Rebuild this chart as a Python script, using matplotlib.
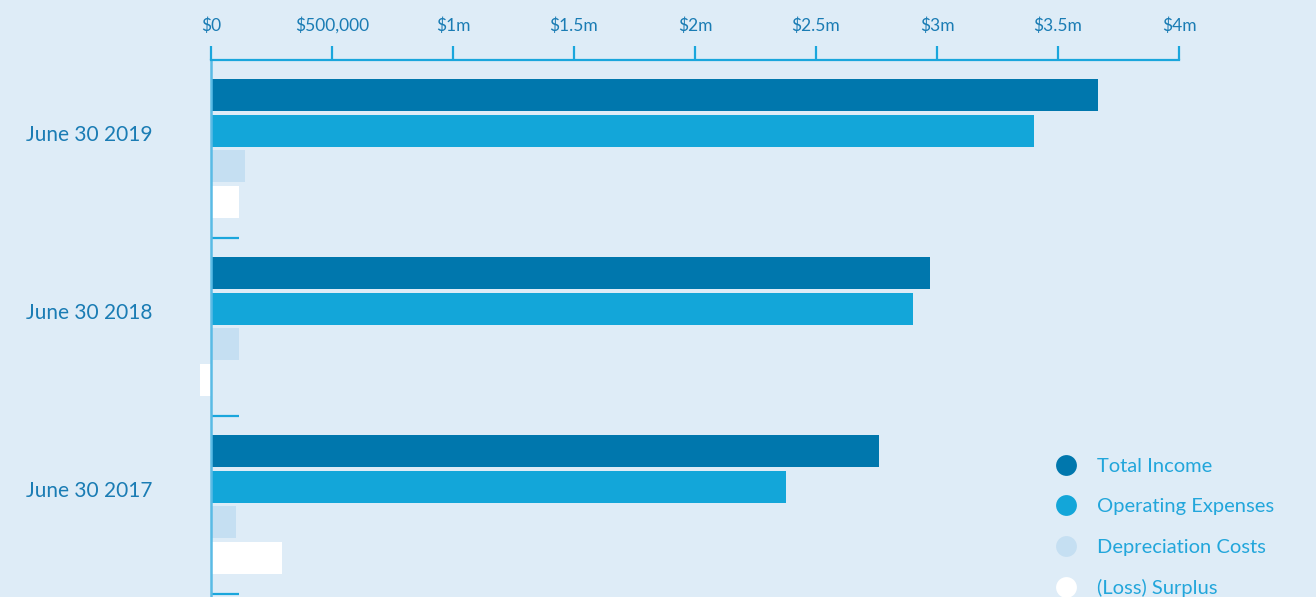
import numpy as np
import matplotlib.pyplot as plt
from matplotlib.lines import Line2D
from matplotlib.ticker import FixedLocator

plt.rcParams['font.family'] = ['Lato', 'DejaVu Sans']

#%% data (millions of dollars)
periods = ['June 30 2019', 'June 30 2018', 'June 30 2017']
series = ['Total Income', 'Operating Expenses', 'Depreciation Costs', '(Loss) Surplus']
total_income = [3.665, 2.971, 2.760]
operating_expenses = [3.400, 2.900, 2.376]
depreciation = [0.140, 0.116, 0.103]
surplus = [0.116, -0.045, 0.293]
x_ticks = [0, 0.5, 1, 1.5, 2, 2.5, 3, 3.5, 4]
x_labels = ['$0', '$500,000', '$1m', '$1.5m', '$2m', '$2.5m', '$3m', '$3.5m', '$4m']

colors = ['#0077ad', '#13a6d9', '#c5dff2', '#ffffff']
bg = '#deecf7'
axis_col = '#1aa6dc'
label_col = '#1a7cb4'

#%%
W, H = 1316, 597
fig = plt.figure(figsize=(W / 100, H / 100), dpi=100, facecolor=bg)
ax = fig.add_axes([0, 0, 1, (H - 60) / H], facecolor=bg)
ax.set_xlim(-(211 / 242), (W - 211) / 242)
ax.set_ylim((H - 60) / 178, 0)

values = [total_income, operating_expenses, depreciation, surplus]
bar_h = 32 / 178
step = 35.7 / 178
first = 19 / 178 + bar_h / 2
for k, (vals, c) in enumerate(zip(values, colors)):
    ys = np.arange(len(periods)) + first + k * step
    ax.barh(ys, vals, height=bar_h, color=c, linewidth=0)

# spines
for s in ['right', 'bottom']:
    ax.spines[s].set_visible(False)
ax.spines['top'].set_bounds(0, 4)
ax.spines['top'].set_color(axis_col)
ax.spines['top'].set_linewidth(1.6)
ax.spines['left'].set_position(('data', 0))
ax.spines['left'].set_color('#5abbe5')
ax.spines['left'].set_linewidth(1.8)

ax.xaxis.tick_top()
ax.set_xticks(x_ticks)
ax.set_xticklabels(x_labels)
ax.tick_params(axis='x', direction='out', length=10, width=1.6, color=axis_col,
               pad=9, labelsize=12.5, labelcolor=label_col)

# group labels and group boundary ticks
ax.set_yticks(np.arange(len(periods)) + 73 / 178)
ax.set_yticklabels(periods)
ax.yaxis.set_minor_locator(FixedLocator(np.arange(1, len(periods) + 1)))
ax.tick_params(axis='y', which='major', length=0, pad=42, labelsize=15,
               labelcolor=label_col)
ax.tick_params(axis='y', which='minor', direction='in', length=20, width=1.6,
               color=axis_col)

handles = [Line2D([], [], marker='o', linestyle='none', markersize=15,
                  markerfacecolor=c, markeredgewidth=0) for c in colors]
fig.legend(handles, series, loc='upper left', bbox_to_anchor=(1038 / W, 1 - 450 / H),
           frameon=False, fontsize=14.5, labelcolor='#22a6db', labelspacing=1.15,
           handletextpad=0.55, borderaxespad=0)

fig.savefig('out.png', dpi=100, facecolor=bg)
